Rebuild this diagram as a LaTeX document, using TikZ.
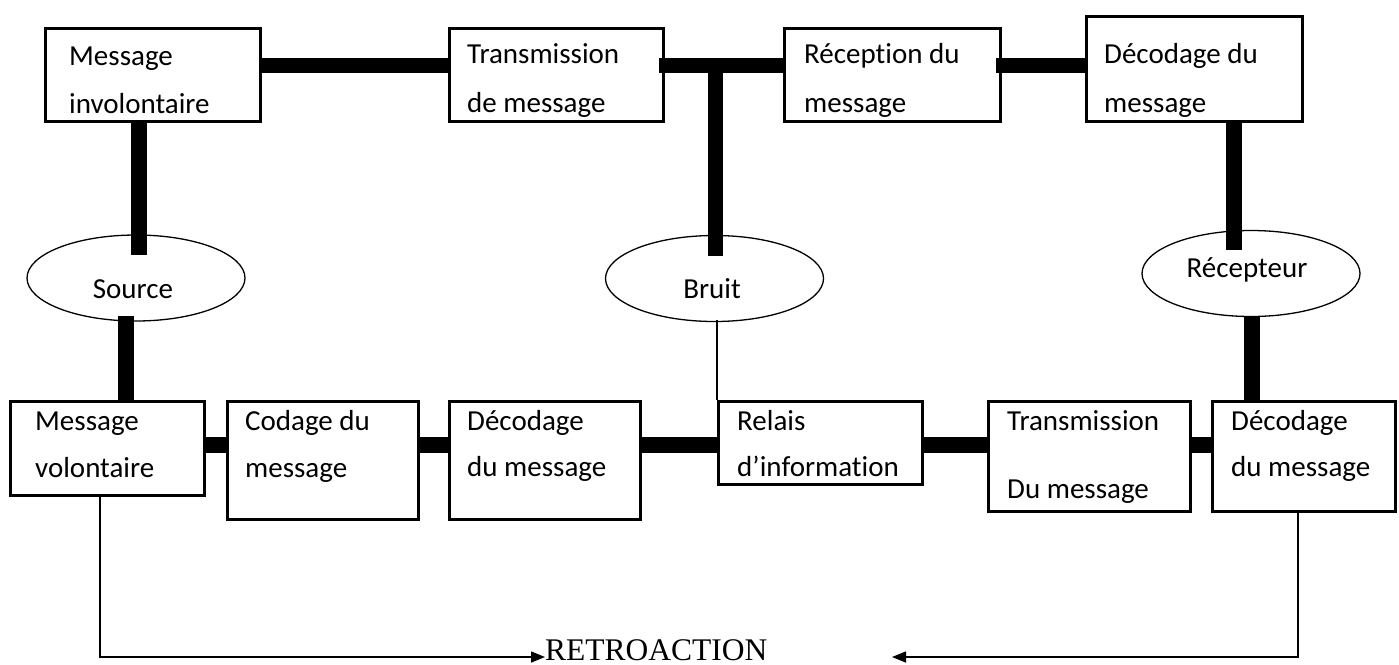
\documentclass[tikz,border=0pt]{standalone}
\usepackage{fontspec}
\setmainfont{Carlito}[Ligatures=NoCommon]
\newfontfamily\timesfont{Liberation Serif}
\usetikzlibrary{shapes.geometric,arrows.meta,calc}
\begin{document}
\begin{tikzpicture}[x=1pt,y=-1pt,
  box/.style={draw,line width=3pt,rectangle,inner sep=0pt},
  oval/.style={draw,ellipse,line width=1.3pt,inner sep=0pt,minimum width=218pt,minimum height=86pt},
  lbl/.style={anchor=base west,inner sep=0pt,font=\fontsize{29}{35}\selectfont},
  olbl/.style={anchor=base,inner sep=0pt,font=\fontsize{29}{35}\selectfont},
  thk/.style={line width=15pt},
  thkv/.style={line width=16pt},
  fb/.style={line width=1.5pt},
  tip/.style={-{Triangle[length=14pt,width=11pt]}}]
\useasboundingbox (0,0) rectangle (1399,664);

% top row boxes
\node[box,minimum width=215pt,minimum height=93pt] (mi) at (153,75) {};
\node[box,minimum width=214pt,minimum height=93pt] (tm) at (556.5,75) {};
\node[box,minimum width=216pt,minimum height=93pt] (rm) at (892.5,75) {};
\node[box,minimum width=216pt,minimum height=105pt] (dm) at (1194.5,69) {};
\node[lbl] (mi1) at (69,65) {Message};
\node[lbl] (mi2) at (69,113) {involontaire};
\node[lbl] (tm1) at (467,63) {Transmission};
\node[lbl] (tm2) at (467,112) {de message};
\node[lbl] (rm1) at (804,63) {Réception du};
\node[lbl] (rm2) at (804,112) {message};
\node[lbl] (dm1) at (1104,63) {Décodage du};
\node[lbl] (dm2) at (1104,112) {message};

% ellipses
\node[oval] (src) at (136,278) {};
\node[oval] (br) at (714.5,278.5) {};
\node[oval] (rc) at (1251,273.5) {};
\node[olbl] (srct) at (133,298) {Source};
\node[olbl] (brt) at (712,298) {Bruit};
\node[olbl] (rct) at (1247,277) {Récepteur};

% bottom row boxes
\node[box,minimum width=194pt,minimum height=94pt] (mv) at (107.5,448.5) {};
\node[box,minimum width=191pt,minimum height=118pt] (cm) at (323,460.5) {};
\node[box,minimum width=191pt,minimum height=118pt] (dd) at (545,460.5) {};
\node[box,minimum width=204pt,minimum height=83pt] (ri) at (820.5,443) {};
\node[box,minimum width=202pt,minimum height=110pt] (td) at (1089.5,456.5) {};
\node[box,minimum width=183pt,minimum height=110pt] (db) at (1304,456.5) {};
\node[lbl] (mv1) at (35,430) {Message};
\node[lbl] (mv2) at (35,477) {volontaire};
\node[lbl] (cm1) at (245,430) {Codage du};
\node[lbl] (cm2) at (245,477) {message};
\node[lbl] (dd1) at (467,430) {Décodage};
\node[lbl] (dd2) at (467,476) {du message};
\node[lbl] (ri1) at (737,430) {Relais};
\node[lbl] (ri2) at (737,476) {d’information};
\node[lbl] (td1) at (1007,430) {Transmission};
\node[lbl] (td2) at (1007,498) {Du message};
\node[lbl] (db1) at (1231,430) {Décodage};
\node[lbl] (db2) at (1231,476) {du message};

% top thick connectors
\coordinate (tj) at (715,65.5);
\draw[thk] (mi.east |- tj) -- (tm.west |- tj);
\draw[thk] ($(tm.east |- tj)+(-6,0)$) -- (rm.west |- tj);
\draw[thk] ($(rm.east |- tj)+(-6,0)$) -- (dm.west |- tj);
\draw[thk] (tj) -- ($(br.north -| tj)+(0,21)$);

% verticals
\draw[thkv] (mi.south -| 139,0) -- ($(src.north -| 139,0)+(0,21)$);
\draw[thkv] ($(src.south -| 126,0)+(0,-6)$) -- (mv.north -| 126,0);
\draw[line width=2.5pt] ($(br.south -| ri.north west)+(0,-2)$) -- (ri.north west);
\draw[thkv] (dm.south -| 1234,0) -- ($(rc.north -| 1234,0)+(0,20)$);
\draw[thkv] ($(rc.south -| 1251.5,0)+(0,-1)$) -- (db.north -| 1251.5,0);

% bottom thick connectors
\coordinate (bj) at (0,445);
\draw[thkv] (mv.east |- bj) -- (cm.west |- bj);
\draw[thkv] (cm.east |- bj) -- (dd.west |- bj);
\draw[thkv] (dd.east |- bj) -- (ri.west |- bj);
\draw[thkv] (ri.east |- bj) -- (td.west |- bj);
\draw[thkv] (td.east |- bj) -- (db.west |- bj);

% feedback
\node[anchor=base west,inner sep=0pt,font=\timesfont\fontsize{31.5}{36}\selectfont] (retro) at (545,660) {RETROACTION};
\coordinate (lt) at (892,657);
\draw[fb,tip] (mv.south -| 100,0) |- ($(retro.base west)+(0,-3)$);
\draw[fb,tip] (db.south -| 1298,0) |- (lt);
\end{tikzpicture}
\end{document}
